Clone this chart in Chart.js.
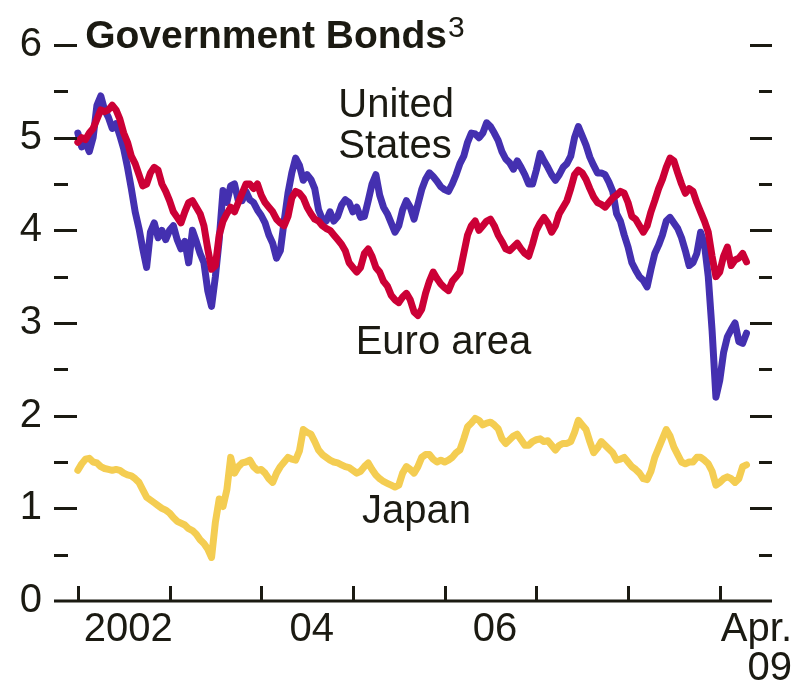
<!DOCTYPE html>
<html lang="en">
<head>
<meta charset="UTF-8">
<title>Government Bonds</title>
<script src="https://cdn.jsdelivr.net/npm/chart.js"></script>
<style>
  html, body { margin: 0; padding: 0; background: #fff; }
  #wrap { width: 794px; height: 682px; }
</style>
</head>
<body>
<div id="wrap"><canvas id="myChart"></canvas></div>
<script>
// half-monthly readings (1st and 16th), Jan 2002 .. Apr 2009
var firstYear = 2002;
var dates = [];
for (var i = 0; i < 176; i++) dates.push(firstYear + i / 24);

var usYields = [
  5.05, 4.9, 4.95, 4.85, 5.0, 5.35, 5.45, 5.3, 5.22, 5.1, 5.15, 5.02,
  4.88, 4.68, 4.45, 4.2, 4.02, 3.8, 3.6, 3.98, 4.08, 3.92, 4.0, 3.9,
  4.0, 4.05, 3.9, 3.8, 3.88, 3.65, 4.0, 3.88, 3.75, 3.65, 3.35, 3.18,
  3.5, 3.9, 4.43, 4.3, 4.48, 4.5, 4.32, 4.32, 4.42, 4.33, 4.3, 4.22,
  4.16, 4.08, 3.95, 3.86, 3.7, 3.78, 4.1, 4.4, 4.62, 4.78, 4.7, 4.54,
  4.6, 4.55, 4.45, 4.22, 4.12, 4.1, 4.2, 4.1, 4.15, 4.27, 4.33, 4.3,
  4.2, 4.25, 4.14, 4.15, 4.32, 4.5, 4.6, 4.38, 4.25, 4.18, 4.08, 3.98,
  4.05, 4.22, 4.32, 4.25, 4.12, 4.28, 4.44, 4.55, 4.62, 4.58, 4.53, 4.47,
  4.44, 4.42, 4.5, 4.6, 4.72, 4.8, 4.95, 5.05, 5.04, 5.0, 5.05, 5.16,
  5.12, 5.05, 4.97, 4.85, 4.77, 4.73, 4.66, 4.75, 4.68, 4.6, 4.5, 4.5,
  4.65, 4.83, 4.75, 4.68, 4.6, 4.54, 4.6, 4.68, 4.72, 4.8, 5.0, 5.12,
  5.02, 4.92, 4.79, 4.7, 4.62, 4.62, 4.6, 4.52, 4.42, 4.18, 4.1, 3.95,
  3.82, 3.65, 3.57, 3.5, 3.46, 3.39, 3.58, 3.75, 3.84, 3.95, 4.1, 4.14,
  4.08, 4.02, 3.92, 3.78, 3.62, 3.65, 3.75, 3.98, 3.85, 3.5, 2.92, 2.2,
  2.38, 2.68, 2.85, 2.93, 3.0, 2.8, 2.78, 2.89
];

var euroYields = [
  4.95, 5.0, 4.98, 5.05, 5.1, 5.2, 5.3, 5.28, 5.3, 5.35, 5.3, 5.2,
  5.05, 4.95, 4.8, 4.72, 4.6, 4.48, 4.5, 4.62, 4.68, 4.65, 4.5, 4.42,
  4.32, 4.2, 4.14, 4.08, 4.2, 4.3, 4.32, 4.25, 4.18, 4.05, 3.8, 3.58,
  3.62, 3.95, 4.1, 4.18, 4.25, 4.2, 4.3, 4.4, 4.5, 4.5, 4.45, 4.5,
  4.38, 4.3, 4.25, 4.2, 4.12, 4.08, 4.05, 4.15, 4.35, 4.42, 4.4, 4.35,
  4.25, 4.18, 4.12, 4.1, 4.05, 4.02, 4.0, 3.95, 3.9, 3.85, 3.78, 3.65,
  3.6, 3.55, 3.6, 3.75, 3.8, 3.72, 3.6, 3.55, 3.45, 3.4, 3.3, 3.25,
  3.22, 3.28, 3.32, 3.25, 3.12, 3.08, 3.15, 3.32, 3.45, 3.55, 3.48, 3.42,
  3.38, 3.35, 3.45, 3.5, 3.55, 3.75, 3.95, 4.05, 4.1, 4.0, 4.05, 4.1,
  4.12, 4.05, 3.95, 3.88, 3.8, 3.78, 3.82, 3.86, 3.8, 3.75, 3.72, 3.85,
  4.0, 4.08, 4.14, 4.08, 3.98, 4.05, 4.18, 4.25, 4.32, 4.45, 4.6, 4.65,
  4.62, 4.55, 4.45, 4.36, 4.3, 4.28, 4.25, 4.3, 4.35, 4.38, 4.42, 4.4,
  4.3, 4.15, 4.12, 4.05, 3.98, 4.05, 4.2, 4.32, 4.45, 4.55, 4.68, 4.78,
  4.75, 4.62, 4.5, 4.4, 4.45, 4.42, 4.3, 4.2, 4.1, 3.98, 3.72, 3.5,
  3.55, 3.72, 3.82, 3.62, 3.68, 3.7, 3.75, 3.66
];

var japanYields = [
  1.41, 1.48, 1.53, 1.54, 1.5, 1.49, 1.45, 1.43, 1.42, 1.41, 1.42, 1.41,
  1.38, 1.36, 1.35, 1.32, 1.28, 1.2, 1.12, 1.09, 1.06, 1.03, 1.0, 0.98,
  0.95, 0.9, 0.86, 0.84, 0.82, 0.78, 0.76, 0.72, 0.66, 0.62, 0.56, 0.47,
  0.85, 1.1, 1.02, 1.2, 1.55, 1.38, 1.45, 1.49, 1.5, 1.52, 1.45, 1.41,
  1.42, 1.38, 1.32, 1.28, 1.38, 1.45, 1.5, 1.55, 1.53, 1.52, 1.62, 1.85,
  1.82, 1.8, 1.72, 1.63, 1.58, 1.55, 1.52, 1.5, 1.49, 1.47, 1.45, 1.44,
  1.41, 1.38, 1.4, 1.45, 1.49, 1.42, 1.36, 1.32, 1.29, 1.27, 1.25, 1.23,
  1.25, 1.38, 1.45, 1.42, 1.38, 1.45, 1.55, 1.58, 1.58, 1.53, 1.5, 1.52,
  1.5, 1.52, 1.55, 1.6, 1.63, 1.75, 1.88, 1.92, 1.97, 1.95, 1.9, 1.92,
  1.93, 1.9, 1.86, 1.75, 1.7, 1.74, 1.78, 1.8, 1.74, 1.68, 1.68, 1.72,
  1.74, 1.75, 1.72, 1.73, 1.68, 1.63, 1.68, 1.7, 1.7, 1.72, 1.82, 1.95,
  1.9, 1.85, 1.72, 1.6, 1.65, 1.72, 1.68, 1.64, 1.6, 1.52, 1.53, 1.55,
  1.5, 1.45, 1.42, 1.38, 1.32, 1.31, 1.4, 1.55, 1.65, 1.75, 1.85, 1.78,
  1.66, 1.58, 1.5, 1.48, 1.5, 1.5, 1.55, 1.55, 1.52, 1.48, 1.4, 1.25,
  1.28, 1.32, 1.34, 1.32, 1.28, 1.32, 1.45, 1.47
];

// axis ticks and labels
var yearTicks = [2002, 2003, 2004, 2005, 2006, 2007, 2008, 2009];
var yMajor = [1, 2, 3, 4, 5, 6];
var yMinor = [0.5, 1.5, 2.5, 3.5, 4.5, 5.5];
var xLabels = ['2002', '04', '06'];
var xLabelAt = [2002.55, 2004.55, 2006.55];

var ink = '#1b1a12';
var font = '"Liberation Sans", Arial, Helvetica, sans-serif';

function toPoints(vals) {
    return vals.map(function (v, i) { return { x: dates[i], y: v }; });
}

var decorations = {
    id: 'decorations',
    afterDatasetsDraw: function (chart) {
        var ctx = chart.ctx;
        var area = chart.chartArea;
        var xs = chart.scales.x, ys = chart.scales.y;
        ctx.save();
        ctx.strokeStyle = ink;
        ctx.lineWidth = 3;
        ctx.lineCap = 'butt';

        // bottom axis and year ticks
        ctx.beginPath();
        ctx.moveTo(area.left, area.bottom);
        ctx.lineTo(area.right, area.bottom);
        ctx.stroke();
        yearTicks.forEach(function (t) {
            var px = Math.round(xs.getPixelForValue(t)) + 0.5;
            ctx.beginPath();
            ctx.moveTo(px, area.bottom);
            ctx.lineTo(px, area.bottom - 15);
            ctx.stroke();
        });

        // left and right tick marks
        function hTick(v, x0, x1) {
            var py = Math.round(ys.getPixelForValue(v)) + 0.5;
            ctx.beginPath();
            ctx.moveTo(x0, py);
            ctx.lineTo(x1, py);
            ctx.stroke();
        }
        yMajor.forEach(function (v) {
            hTick(v, area.left, area.left + 23);
            hTick(v, area.right - 22, area.right);
        });
        yMinor.forEach(function (v) {
            hTick(v, area.left, area.left + 14);
            hTick(v, area.right - 13, area.right);
        });

        // x labels
        ctx.fillStyle = ink;
        ctx.font = '40px ' + font;
        ctx.textBaseline = 'alphabetic';
        ctx.textAlign = 'center';
        xLabels.forEach(function (s, i) {
            ctx.fillText(s, xs.getPixelForValue(xLabelAt[i]), area.bottom + 40);
        });
        ctx.textAlign = 'right';
        ctx.fillText('Apr.', area.right + 20, area.bottom + 40);
        ctx.fillText('09', area.right + 20, area.bottom + 79);

        // title
        ctx.textAlign = 'left';
        ctx.font = 'bold 39px ' + font;
        var tx = xs.getPixelForValue(2002.08), ty = ys.getPixelForValue(5.967);
        ctx.fillText('Government Bonds', tx, ty);
        var tw = ctx.measureText('Government Bonds').width;
        ctx.font = '30px ' + font;
        ctx.fillText('3', tx + tw + 1, ty - 11);

        // series names
        ctx.font = '40px ' + font;
        ctx.fillText('United', xs.getPixelForValue(2004.84), ys.getPixelForValue(5.223));
        ctx.fillText('States', xs.getPixelForValue(2004.84), ys.getPixelForValue(4.78));
        ctx.fillText('Euro area', xs.getPixelForValue(2005.03), ys.getPixelForValue(2.665));
        ctx.fillText('Japan', xs.getPixelForValue(2005.10), ys.getPixelForValue(0.842));
        ctx.restore();
    }
};

var ctx = document.getElementById('myChart').getContext('2d');
var myChart = new Chart(ctx, {
    type: 'line',
    data: {
        datasets: [{
            label: 'Japan',
            data: toPoints(japanYields),
            borderColor: '#f4cd52',
            borderWidth: 7
        }, {
            label: 'Euro area',
            data: toPoints(euroYields),
            borderColor: '#cc0036',
            borderWidth: 7
        }, {
            label: 'United States',
            data: toPoints(usYields),
            borderColor: '#4430b0',
            borderWidth: 7
        }]
    },
    options: {
        responsive: true,
        maintainAspectRatio: false,
        animation: false,
        layout: { padding: { top: 45, bottom: 81, left: 0, right: 22 } },
        elements: {
            point: { radius: 0 },
            line: { tension: 0, borderJoinStyle: 'round', borderCapStyle: 'round' }
        },
        plugins: { legend: { display: false }, tooltip: { enabled: false } },
        scales: {
            x: {
                type: 'linear',
                display: false,
                min: 2001.74,
                max: 2009.57
            },
            y: {
                min: 0,
                max: 6,
                grid: { display: false, drawTicks: false },
                border: { display: false },
                ticks: {
                    stepSize: 1,
                    padding: 12,
                    color: ink,
                    font: { family: font, size: 40 }
                },
                afterFit: function (scale) { scale.width = 54; }
            }
        }
    },
    plugins: [decorations]
});
</script>
</body>
</html>
